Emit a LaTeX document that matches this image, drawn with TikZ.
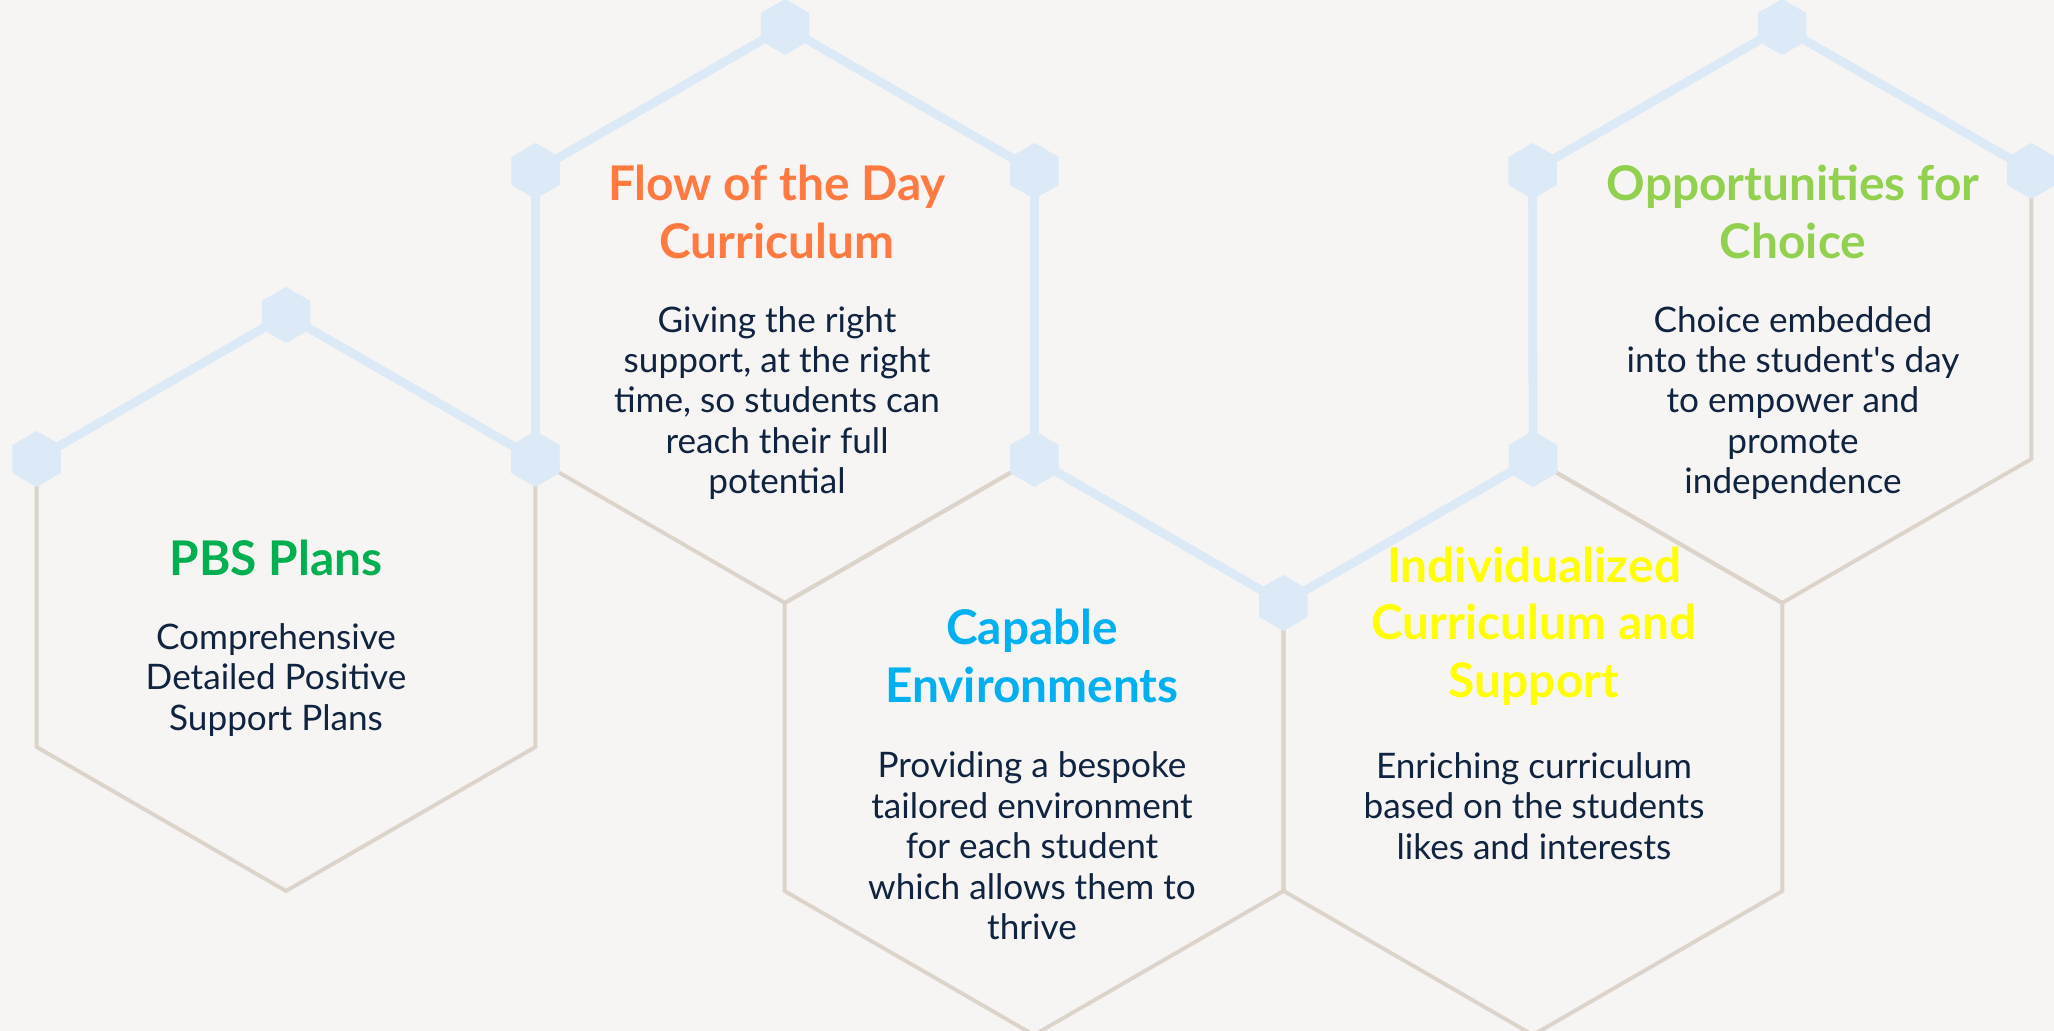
\documentclass[tikz,border=0pt]{standalone}
\usepackage{fontspec}
\setmainfont{Lato}
\usetikzlibrary{shapes.geometric,calc,positioning}

\definecolor{paper}{HTML}{F6F5F3}
\definecolor{linkblue}{HTML}{DCE9F6}
\definecolor{rim}{HTML}{DCD3CB}
\definecolor{ink}{HTML}{10233F}
\definecolor{pbsgreen}{HTML}{00B050}
\definecolor{floworange}{HTML}{FF7A40}
\definecolor{capcyan}{HTML}{00B0F0}
\definecolor{indyellow}{HTML}{FFFF00}
\definecolor{optgreen}{HTML}{92D050}

\tikzset{
  rimline/.style={draw=rim, line width=1.1pt},
  linkline/.style={draw=linkblue, line width=2.5pt},
  knot/.style={regular polygon, regular polygon sides=6, shape border rotate=30,
    fill=linkblue, minimum size=0.56cm, inner sep=0pt},
  headline/.style={font=\fontsize{13.6}{16.4}\selectfont\bfseries, align=center},
  blurb/.style={font=\fontsize{10}{11.5}\selectfont, text=ink, align=center}
}

\begin{document}
\begin{tikzpicture}

\fill [paper] (0,0) rectangle (20.54,10.31);
\useasboundingbox (0,0) rectangle (20.54,10.31);
\clip (0,0) rectangle (20.54,10.31);

\def\hr{2.88}
\coordinate (pbs) at (2.86,4.28);
\coordinate (flow) at (7.85,7.16);
\coordinate (cap) at (10.34,2.84);
\coordinate (ind) at (15.33,2.84);
\coordinate (opp) at (17.82,7.16);

% corners of the cells
\foreach \c in {pbs,flow,cap,ind,opp}
  \foreach \a in {30,90,150,210,270,330}
    \coordinate (\c-\a) at ($(\c)+(\a:\hr)$);

\foreach \c in {pbs,flow,cap,ind,opp}
  \draw [rimline] (\c-30) -- (\c-90) -- (\c-150) -- (\c-210) -- (\c-270) -- (\c-330) -- cycle;

% the blue chain along the top
\draw [linkline] (pbs-150) -- (pbs-90) -- (pbs-30) -- (flow-150) -- (flow-90) -- (flow-30)
  -- (flow-330) -- (cap-30) -- (ind-90) -- (opp-150) -- (opp-90) -- (opp-30);

\foreach \p in {pbs-150,pbs-90,pbs-30,flow-150,flow-90,flow-30,flow-330,cap-30,ind-90,opp-150,opp-90,opp-30}
  \node [knot] (k-\p) at (\p) {};

\node [headline, text=pbsgreen] (pbstitle) at (2.76,4.73) {PBS Plans};
\node [blurb] (pbstext) at (2.76,3.51) {Comprehensive\\Detailed Positive\\Support Plans};

\node [headline, text=floworange] (flowtitle) at (7.77,8.19) {Flow of the Day\\Curriculum};
\node [blurb] (flowtext) at (7.77,6.28) {Giving the right\\support, at the right\\time, so students can\\reach their full\\potential};

\node [headline, text=capcyan] (captitle) at (10.32,3.75) {Capable\\Environments};
\node [blurb] (captext) at (10.32,1.85) {Providing a bespoke\\tailored environment\\for each student\\which allows them to\\thrive};

\node [headline, text=indyellow] (indtitle) at (15.34,4.05) {Individualized\\Curriculum and\\Support};
\node [blurb] (indtext) at (15.34,2.25) {Enriching curriculum\\based on the students\\likes and interests};

\node [headline, text=optgreen] (opptitle) at (17.93,8.19) {Opportunities for\\Choice};
\node [blurb] (opptext) at (17.93,6.28) {Choice embedded\\into the student\textquotesingle s day\\to empower and\\promote\\independence};

\end{tikzpicture}
\end{document}
